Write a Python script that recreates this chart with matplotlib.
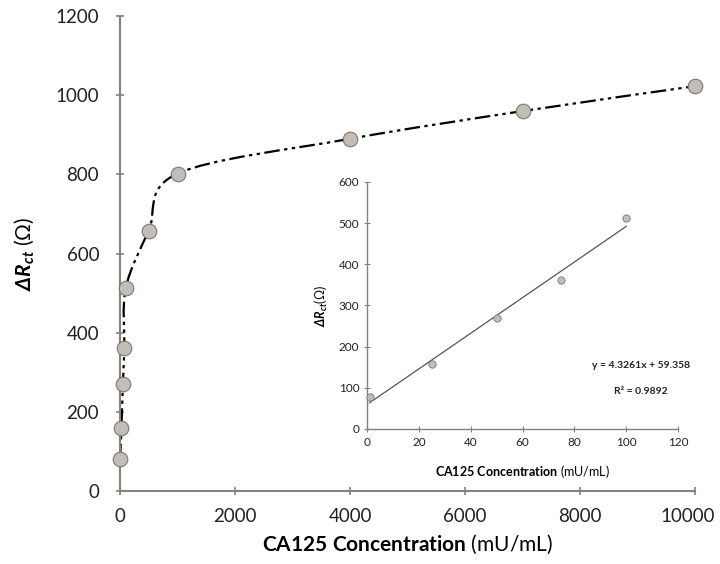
import numpy as np
import matplotlib
matplotlib.use("Agg")
import matplotlib.pyplot as plt
import matplotlib.transforms as mtransforms
from matplotlib.path import Path
from matplotlib.patches import PathPatch

plt.rcParams['font.family'] = ['Lato', 'DejaVu Sans']
plt.rcParams['mathtext.fontset'] = 'custom'
plt.rcParams['mathtext.rm'] = 'Lato'
plt.rcParams['mathtext.it'] = 'Lato:italic'
plt.rcParams['mathtext.bf'] = 'Lato:bold'
plt.rcParams['mathtext.bfit'] = 'Lato:italic:bold'

# data
conc = [1, 25, 50, 75, 100, 500, 1000, 4000, 7000, 10000]
drct = [80, 160, 270, 362, 513, 658, 802, 890, 960, 1023]
inset_conc = [1, 25, 50, 75, 100]
inset_drct = [78, 159, 270, 361, 513]
slope = 4.3261
intercept = 59.358
r2 = 0.9892

axis_col = '#8a7f79'
face_col = '#c3bdb8'
edge_col = '#7d7772'

fig = plt.figure(figsize=(7.2, 5.64), dpi=100)
ax = fig.add_axes([0.1667, 0.1294, 0.7986, 0.842])

ax.set_xlim(0, 10000)
ax.set_ylim(0, 1200)
ax.set_xticks(range(0, 10001, 2000))
ax.set_yticks(range(0, 1201, 200))
for s in ['top', 'right']:
    ax.spines[s].set_visible(False)
for s in ['left', 'bottom']:
    ax.spines[s].set_color(axis_col)
    ax.spines[s].set_linewidth(1.5)
ax.tick_params(colors=axis_col, labelcolor='#222222', labelsize=13.5, length=6, width=1.2, direction='inout')
ax.tick_params(axis='x', pad=9)
ax.tick_params(axis='y', pad=12)


# smoothed line (Excel style bezier) drawn in screen space
def smooth_path(axes, xs, ys):
    pts = axes.transData.transform(np.column_stack([xs, ys]))
    n = len(pts)
    verts = [pts[0]]
    codes = [Path.MOVETO]
    for i in range(n - 1):
        p0 = pts[i - 1] if i > 0 else pts[i]
        p1 = pts[i]
        p2 = pts[i + 1]
        p3 = pts[i + 2] if i + 2 < n else pts[i + 1]
        c1 = p1 + (p2 - p0) / 6.0
        c2 = p2 - (p3 - p1) / 6.0
        verts += [c1, c2, p2]
        codes += [Path.CURVE4] * 3
    verts = axes.transData.inverted().transform(np.array(verts))
    return Path(verts, codes)


fig.canvas.draw()
path = smooth_path(ax, conc, drct)
ax.add_patch(PathPatch(path, facecolor='none', edgecolor='black', lw=1.6,
                       linestyle=(0, (7, 2, 1.5, 2, 1.5, 2)), zorder=2))
ax.scatter(conc, drct, s=110, c=face_col, edgecolors=edge_col, linewidths=0.8, zorder=3, clip_on=False)

# nudge the last x tick label so it stays inside the figure
last = ax.get_xticklabels()[-1]
last.set_transform(last.get_transform() + mtransforms.ScaledTranslation(-5 / 72, 0, fig.dpi_scale_trans))

ax.set_xlabel(r'$\mathbf{CA125\ Concentration}$ (mU/mL)', fontsize=15, labelpad=6)
ax.set_ylabel(r'$\mathbfit{\Delta R_{ct}}$ ($\Omega$)', fontsize=15, labelpad=14)

# inset
ax2 = fig.add_axes([0.5097, 0.2394, 0.432, 0.438])
ax2.set_xlim(0, 120)
ax2.set_ylim(0, 600)
ax2.set_xticks(range(0, 121, 20))
ax2.set_yticks(range(0, 601, 100))
for s in ['top', 'right']:
    ax2.spines[s].set_visible(False)
for s in ['left', 'bottom']:
    ax2.spines[s].set_color(axis_col)
    ax2.spines[s].set_linewidth(1.0)
ax2.tick_params(colors=axis_col, labelcolor='#222222', labelsize=8.5, length=4, width=0.8, direction='inout')
ax2.patch.set_alpha(0)

fit_x = np.array([inset_conc[0], inset_conc[-1]])
ax2.plot(fit_x, slope * fit_x + intercept, color='#555555', lw=0.9, zorder=2)
ax2.scatter(inset_conc, inset_drct, s=28, c=face_col, edgecolors=edge_col, linewidths=0.6, zorder=3, clip_on=False)

ax2.text(0.88, 0.255, 'y = %.4fx + %.3f' % (slope, intercept), transform=ax2.transAxes,
         ha='center', va='center', fontsize=7.5, fontweight='bold', color='#222222')
ax2.text(0.88, 0.15, 'R² = %.4f' % r2, transform=ax2.transAxes,
         ha='center', va='center', fontsize=7.5, fontweight='bold', color='#222222')

ax2.set_xlabel(r'$\mathbf{CA125\ Concentration}$ (mU/mL)', fontsize=9, labelpad=11)
ax2.set_ylabel(r'$\mathbfit{\Delta R_{ct}}$($\Omega$)', fontsize=9, labelpad=6)

fig.savefig('out.png', dpi=100)
